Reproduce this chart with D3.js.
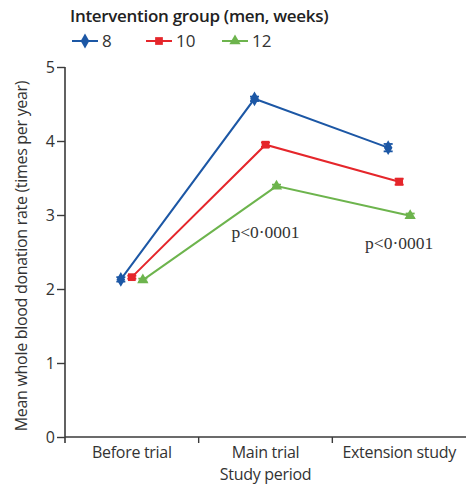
<!DOCTYPE html>
<html>
<head>
<meta charset="utf-8">
<script src="https://cdn.jsdelivr.net/npm/d3@7"></script>
<style>
  html, body { margin: 0; padding: 0; background: #fff; }
  svg { display: block; }
</style>
</head>
<body>
<svg id="chart" width="466" height="492"></svg>
<script>
// Study periods on the x axis
const periods = ["Before trial", "Main trial", "Extension study"];
// Intervention groups (minimum inter-donation interval, weeks)
const groups = ["8", "10", "12"];
// Mean whole blood donation rate (times per year) per group and period
const rate8  = [2.13, 4.57, 3.91];
const rate10 = [2.16, 3.95, 3.45];
const rate12 = [2.12, 3.39, 2.99];
// Half-width of the confidence interval
const err8  = [0.03, 0.03, 0.05];
const err10 = [0.02, 0.03, 0.04];
const err12 = [0.02, 0.02, 0.03];
const yTicks = [0, 1, 2, 3, 4, 5];
const pLabels = [
  { period: "Main trial", text: "p<0·0001" },
  { period: "Extension study", text: "p<0·0001" }
];

const series = [
  { name: groups[0], values: rate8,  errs: err8,  color: "#1c57a5", shape: "diamond", offset: -11 },
  { name: groups[1], values: rate10, errs: err10, color: "#e5262b", shape: "square",  offset: 0 },
  { name: groups[2], values: rate12, errs: err12, color: "#6db44d", shape: "triangle", offset: 11 }
];

const svg = d3.select("#chart");
const sans = "'Open Sans', 'Noto Sans', sans-serif";
const axisColor = "#3a3a3a";
const textColor = "#333";

const margin = { left: 65, right: 466, top: 67, bottom: 437 };
const x = d3.scaleBand().domain(periods).range([margin.left, margin.right]).paddingInner(0).paddingOuter(0);
const y = d3.scaleLinear().domain([0, 5]).range([margin.bottom, margin.top]);

// Y axis
const yAxis = svg.append("g")
  .attr("transform", `translate(${margin.left},0)`)
  .call(d3.axisLeft(y).tickValues(yTicks).tickSize(8).tickPadding(2).tickFormat(d3.format("d")));
yAxis.select(".domain").attr("stroke", axisColor).attr("stroke-width", 1.6).attr("d", `M0,${y(5)}V${y(0) + 6}`);
yAxis.selectAll(".tick line").attr("stroke", axisColor).attr("stroke-width", 1.4);
yAxis.selectAll(".tick text").attr("fill", textColor).style("font-family", sans).style("font-size", "16px");

// X axis: ticks sit on category boundaries
const xAxisG = svg.append("g").attr("transform", `translate(0,${margin.bottom})`);
xAxisG.append("line")
  .attr("x1", margin.left).attr("x2", margin.right)
  .attr("stroke", axisColor).attr("stroke-width", 1.6);
xAxisG.selectAll("line.tk")
  .data(periods.slice(1))
  .join("line").attr("class", "tk")
  .attr("x1", d => x(d)).attr("x2", d => x(d))
  .attr("y1", 0).attr("y2", 6)
  .attr("stroke", axisColor).attr("stroke-width", 1.4);
xAxisG.selectAll("text")
  .data(periods)
  .join("text")
  .attr("x", d => x(d) + x.bandwidth() / 2)
  .attr("y", 21)
  .attr("text-anchor", "middle")
  .attr("fill", textColor)
  .style("font-family", sans).style("font-size", "16px")
  .style("letter-spacing", "-0.3px")
  .text(d => d);

// Axis titles
svg.append("text")
  .attr("x", (margin.left + margin.right) / 2).attr("y", 480)
  .attr("text-anchor", "middle").attr("fill", textColor)
  .style("font-family", sans).style("font-size", "16px")
  .style("letter-spacing", "-0.3px")
  .text("Study period");
svg.append("text")
  .attr("transform", `translate(27,${(margin.top + margin.bottom) / 2 + 4}) rotate(-90)`)
  .attr("text-anchor", "middle").attr("fill", textColor)
  .style("font-family", sans).style("font-size", "16px")
  .style("letter-spacing", "-0.3px")
  .text("Mean whole blood donation rate (times per year)");

// Marker symbols
const symbolFor = {
  diamond: d3.symbol().type(d3.symbolDiamond).size(64),
  square: d3.symbol().type(d3.symbolSquare).size(60),
  triangle: d3.symbol().type(d3.symbolTriangle).size(55)
};

const line = d3.line().x(d => d.x).y(d => d.y);

series.forEach(s => {
  const pts = periods.map((p, i) => ({
    x: x(p) + x.bandwidth() / 2 + s.offset,
    y: y(s.values[i]),
    lo: y(s.values[i] - s.errs[i]),
    hi: y(s.values[i] + s.errs[i])
  }));
  const g = svg.append("g");
  g.append("path").datum(pts)
    .attr("d", line).attr("fill", "none")
    .attr("stroke", s.color).attr("stroke-width", 2);
  // error bars with caps
  pts.forEach(pt => {
    g.append("line").attr("x1", pt.x).attr("x2", pt.x).attr("y1", pt.lo).attr("y2", pt.hi)
      .attr("stroke", s.color).attr("stroke-width", 1.8);
    [pt.lo, pt.hi].forEach(yy => g.append("line")
      .attr("x1", pt.x - 4.5).attr("x2", pt.x + 4.5).attr("y1", yy).attr("y2", yy)
      .attr("stroke", s.color).attr("stroke-width", 1.8));
  });
  g.selectAll("path.m").data(pts).join("path").attr("class", "m")
    .attr("transform", d => `translate(${d.x},${d.y})`)
    .attr("d", symbolFor[s.shape]())
    .attr("fill", s.color);
});

// Significance labels
const pPos = { "Main trial": { dx: 0, dy: 238 }, "Extension study": { dx: 0, dy: 249 } };
svg.selectAll("text.pv").data(pLabels).join("text").attr("class", "pv")
  .attr("x", d => x(d.period) + x.bandwidth() / 2 + pPos[d.period].dx)
  .attr("y", d => pPos[d.period].dy)
  .attr("text-anchor", "middle").attr("fill", textColor)
  .style("font-family", "'Liberation Serif', serif").style("font-size", "17.5px")
  .text(d => d.text);

// Legend
const legend = svg.append("g");
legend.append("text")
  .attr("x", 70).attr("y", 22)
  .attr("fill", "#222")
  .style("font-family", sans).style("font-size", "17px").style("font-weight", 600)
  .style("letter-spacing", "-0.3px")
  .text("Intervention group (men, weeks)");
const legX = [72, 146, 222];
series.forEach((s, i) => {
  const lg = legend.append("g").attr("transform", `translate(${legX[i]},41)`);
  lg.append("line").attr("x1", 0).attr("x2", 26).attr("stroke", s.color).attr("stroke-width", 2);
  lg.append("path").attr("transform", "translate(13,0)").attr("d", symbolFor[s.shape]()).attr("fill", s.color);
  lg.append("text").attr("x", 30).attr("y", 6)
    .attr("fill", textColor)
    .style("font-family", sans).style("font-size", "17px")
    .text(s.name);
});
</script>
</body>
</html>
